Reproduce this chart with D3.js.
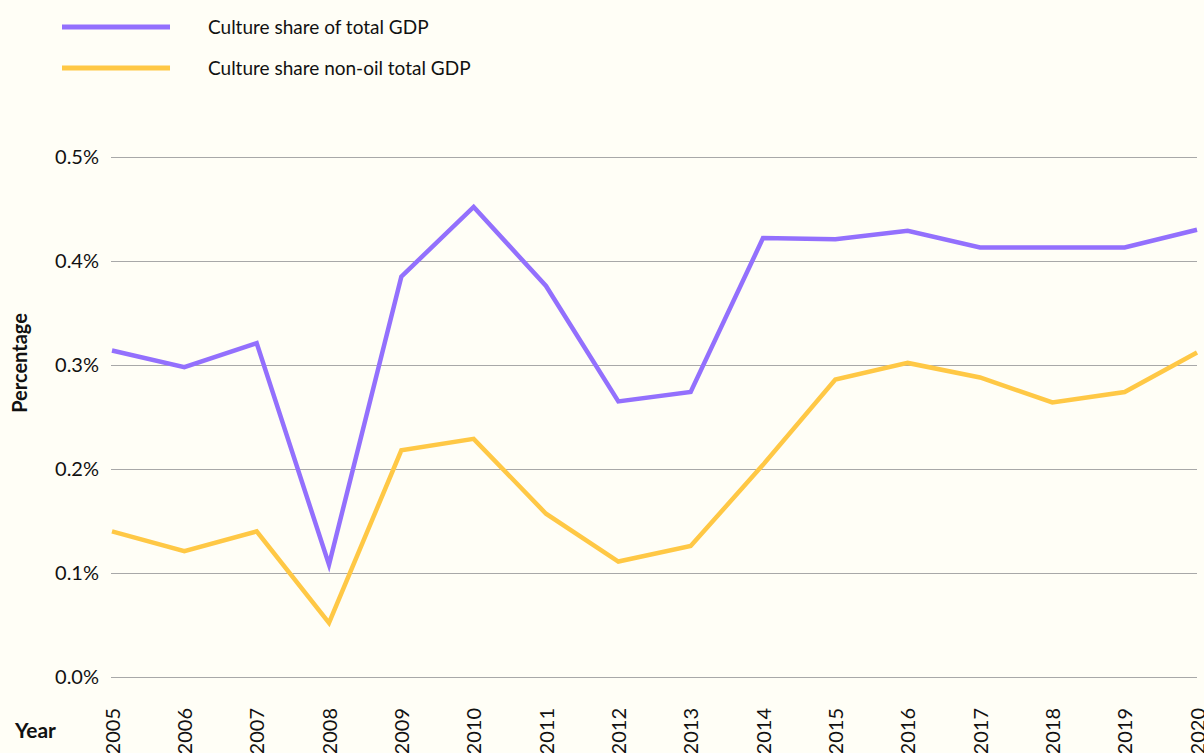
<!DOCTYPE html>
<html>
<head>
<meta charset="utf-8">
<script src="https://cdn.jsdelivr.net/npm/d3@7"></script>
<style>
  body { margin: 0; background: #fffef6; }
  svg { display: block; font-family: Lato, "Noto Sans", sans-serif; }
</style>
</head>
<body>
<div id="chart"></div>
<script>
var width = 1204;
var height = 753;
var margin = { top: 157, bottom: 76, left: 111, right: 7 };

// data
var years = [2005, 2006, 2007, 2008, 2009, 2010, 2011, 2012, 2013, 2014, 2015, 2016, 2017, 2018, 2019, 2020];
var totalGdp = [0.314, 0.298, 0.321, 0.108, 0.385, 0.452, 0.376, 0.265, 0.274, 0.422, 0.421, 0.429, 0.413, 0.413, 0.413, 0.430];
var nonOilGdp = [0.140, 0.121, 0.140, 0.052, 0.218, 0.229, 0.157, 0.111, 0.126, 0.204, 0.286, 0.302, 0.288, 0.264, 0.274, 0.312];
var seriesNames = ["Culture share of total GDP", "Culture share non-oil total GDP"];
var seriesColors = ["#9370fd", "#ffc845"];
var yTicks = [0, 0.1, 0.2, 0.3, 0.4, 0.5];

var series = [totalGdp, nonOilGdp];

var svg = d3.select("#chart")
  .append("svg")
  .attr("width", width)
  .attr("height", height);

svg.append("rect")
  .attr("width", width)
  .attr("height", height)
  .attr("fill", "#fffef6");

var xScale = d3.scaleLinear()
  .domain([years[0], years[years.length - 1]])
  .range([margin.left + 1, width - margin.right]);

var yScale = d3.scaleLinear()
  .domain([0, 0.5])
  .range([height - margin.bottom, margin.top]);

// grid lines + y labels
var yAxis = svg.append("g")
  .attr("transform", "translate(" + margin.left + ",0)")
  .call(d3.axisLeft(yScale)
    .tickValues(yTicks)
    .tickSize(-(width - margin.left - margin.right))
    .tickFormat(function (d) { return d3.format(".1f")(d) + "%"; }));
yAxis.select(".domain").remove();
yAxis.selectAll(".tick line")
  .attr("stroke", "#a8a8a8")
  .attr("stroke-width", 1.2);
yAxis.selectAll(".tick text")
  .attr("x", -12)
  .attr("font-size", 20)
  .attr("fill", "#111")
  .style("font-family", "Lato, 'Noto Sans', sans-serif");

// x labels, rotated
var xAxis = svg.append("g")
  .attr("transform", "translate(0," + (height - margin.bottom) + ")")
  .call(d3.axisBottom(xScale)
    .tickValues(years)
    .tickSize(0)
    .tickFormat(d3.format("d")));
xAxis.select(".domain").remove();
xAxis.selectAll(".tick text")
  .attr("transform", "rotate(-90)")
  .attr("text-anchor", "end")
  .attr("x", -31)
  .attr("y", 0)
  .attr("dy", "0.35em")
  .attr("font-size", 20)
  .attr("fill", "#111")
  .style("font-family", "Lato, 'Noto Sans', sans-serif");

// axis titles
svg.append("text")
  .attr("transform", "translate(27,363) rotate(-90)")
  .attr("text-anchor", "middle")
  .attr("font-size", 20)
  .attr("font-weight", "bold")
  .attr("fill", "#111")
  .text("Percentage");

svg.append("text")
  .attr("x", 15)
  .attr("y", 738)
  .attr("font-size", 21)
  .attr("font-weight", "bold")
  .attr("fill", "#111")
  .text("Year");

// lines
var line = d3.line()
  .x(function (d, i) { return xScale(years[i]); })
  .y(function (d) { return yScale(d); });

svg.selectAll(".series")
  .data(series)
  .enter()
  .append("path")
  .attr("class", "series")
  .attr("d", line)
  .attr("fill", "none")
  .attr("stroke", function (d, i) { return seriesColors[i]; })
  .attr("stroke-width", 4.5)
  .attr("stroke-linejoin", "miter");

// legend
var legend = svg.selectAll(".legend")
  .data(seriesNames)
  .enter()
  .append("g")
  .attr("class", "legend")
  .attr("transform", function (d, i) { return "translate(62," + (27 + i * 41) + ")"; });

legend.append("line")
  .attr("x1", 0)
  .attr("x2", 108)
  .attr("stroke", function (d, i) { return seriesColors[i]; })
  .attr("stroke-width", 5);

legend.append("text")
  .attr("x", 146)
  .attr("dy", "0.35em")
  .attr("font-size", 19)
  .attr("fill", "#111")
  .text(function (d) { return d; });
</script>
</body>
</html>
